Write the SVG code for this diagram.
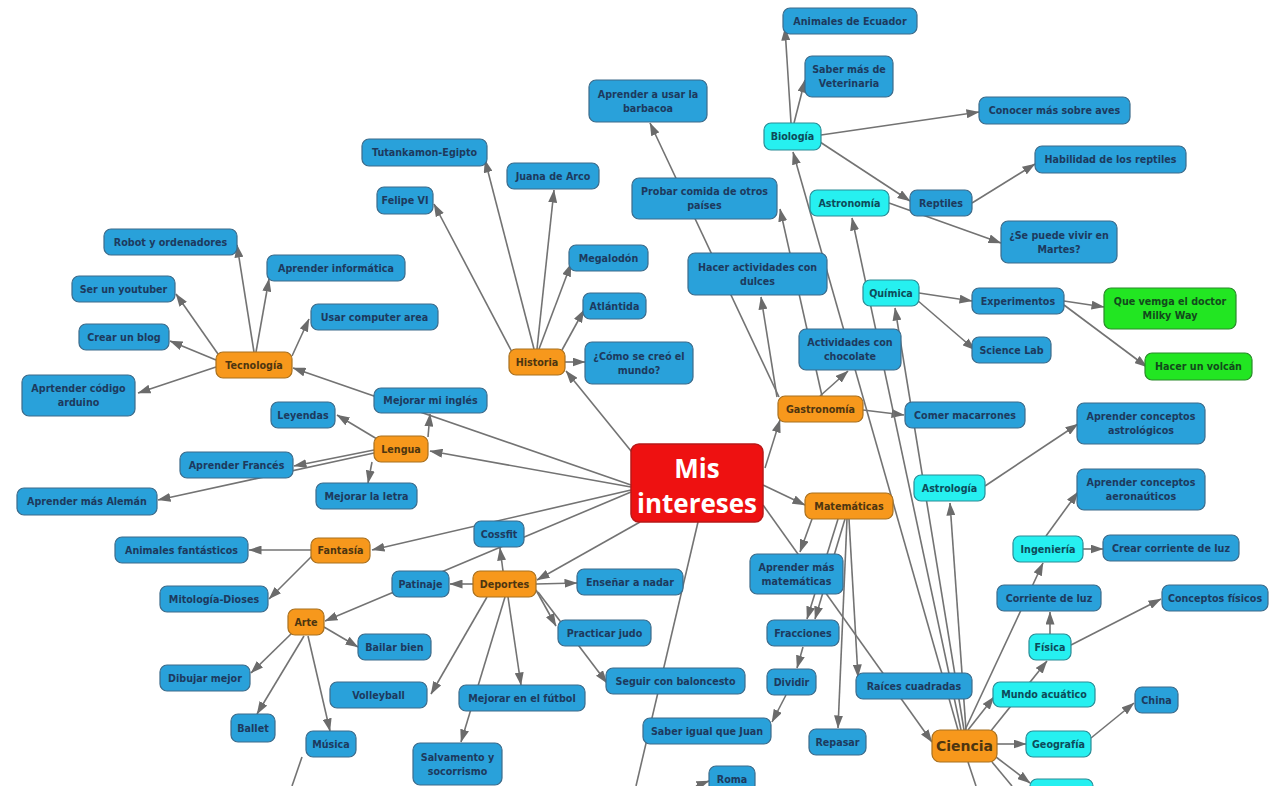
<svg xmlns="http://www.w3.org/2000/svg" width="1269" height="786" viewBox="0 0 1269 786">
<style>
text{font-family:"DejaVu Sans","Open Sans",sans-serif;font-weight:bold;font-size:9.6px;text-anchor:middle}
.b rect{fill:#29a1da;stroke:#3d6b8a;stroke-width:1.2}
.b text{fill:#1d3a5e}
.o rect{fill:#f7981c;stroke:#a8701f;stroke-width:1.2}
.o text{fill:#4d3510}
.c rect{fill:#26f0f0;stroke:#2a8c96;stroke-width:1.2}
.c text{fill:#0d4b5a}
.g rect{fill:#22e622;stroke:#2a8a2a;stroke-width:1.2}
.g text{fill:#124a1c}
.r rect{fill:#ee1111;stroke:#b81818;stroke-width:1.5}
.r text{fill:#ffffff;font-family:"Open Sans","Noto Sans",sans-serif;font-size:26px}
#edges line{stroke:#737373;stroke-width:1.6}
#edges line.a{marker-end:url(#arr)}
</style>
<defs>
<marker id="arr" viewBox="0 0 13 9" refX="12.5" refY="4.5" markerWidth="13" markerHeight="9" markerUnits="userSpaceOnUse" orient="auto">
<path d="M0,0 L13,4.5 L0,9 z" fill="#6b6b6b"/>
</marker>
</defs>
<rect width="1269" height="786" fill="#ffffff"/>
<g id="edges">
<line class="a" x1="640" y1="462" x2="566" y2="371"/>
<line class="a" x1="631" y1="485" x2="293" y2="368"/>
<line class="a" x1="631" y1="487" x2="430" y2="451"/>
<line class="a" x1="631" y1="490" x2="372" y2="550"/>
<line class="a" x1="631" y1="492" x2="325" y2="621"/>
<line class="a" x1="640" y1="522" x2="537" y2="580"/>
<line class="a" x1="765" y1="468" x2="780" y2="420"/>
<line class="a" x1="763" y1="485" x2="805" y2="505"/>
<line class="a" x1="763" y1="505" x2="932" y2="742"/>
<line x1="698" y1="522" x2="636" y2="786"/>
<line class="a" x1="254" y1="352" x2="237" y2="245"/>
<line class="a" x1="256" y1="352" x2="269" y2="279"/>
<line class="a" x1="218" y1="354" x2="176" y2="294"/>
<line class="a" x1="216" y1="360" x2="170" y2="341"/>
<line class="a" x1="216" y1="367" x2="138" y2="393"/>
<line class="a" x1="292" y1="356" x2="309" y2="319"/>
<line class="a" x1="534" y1="349" x2="485" y2="160"/>
<line class="a" x1="537" y1="349" x2="554" y2="190"/>
<line class="a" x1="512" y1="352" x2="434" y2="204"/>
<line class="a" x1="539" y1="349" x2="571" y2="264"/>
<line class="a" x1="562" y1="350" x2="584" y2="310"/>
<line class="a" x1="565" y1="362" x2="585" y2="362"/>
<line class="a" x1="377" y1="439" x2="337" y2="415"/>
<line class="a" x1="428" y1="437" x2="430" y2="414"/>
<line class="a" x1="374" y1="450" x2="294" y2="466"/>
<line class="a" x1="374" y1="453" x2="158" y2="500"/>
<line class="a" x1="372" y1="462" x2="368" y2="483"/>
<line class="a" x1="311" y1="550" x2="249" y2="550"/>
<line class="a" x1="312" y1="556" x2="269" y2="599"/>
<line class="a" x1="324" y1="627" x2="358" y2="647"/>
<line class="a" x1="292" y1="633" x2="251" y2="673"/>
<line class="a" x1="304" y1="636" x2="257" y2="714"/>
<line class="a" x1="308" y1="636" x2="330" y2="731"/>
<line x1="302" y1="757" x2="292" y2="786"/>
<line class="a" x1="503" y1="571" x2="500" y2="548"/>
<line class="a" x1="473" y1="584" x2="450" y2="584"/>
<line class="a" x1="536" y1="584" x2="577" y2="583"/>
<line class="a" x1="536" y1="590" x2="556" y2="626"/>
<line class="a" x1="538" y1="592" x2="607" y2="683"/>
<line class="a" x1="487" y1="597" x2="431" y2="694"/>
<line class="a" x1="508" y1="597" x2="521" y2="685"/>
<line class="a" x1="505" y1="597" x2="461" y2="742"/>
<line class="a" x1="777" y1="397" x2="761" y2="297"/>
<line class="a" x1="779" y1="397" x2="650" y2="123"/>
<line class="a" x1="822" y1="396" x2="780" y2="209"/>
<line class="a" x1="820" y1="396" x2="848" y2="371"/>
<line class="a" x1="863" y1="410" x2="904" y2="415"/>
<line class="a" x1="812" y1="519" x2="800" y2="552"/>
<line class="a" x1="838" y1="519" x2="807" y2="619"/>
<line class="a" x1="845" y1="519" x2="815" y2="619"/>
<line class="a" x1="803" y1="647" x2="797" y2="668"/>
<line class="a" x1="786" y1="695" x2="772" y2="722"/>
<line class="a" x1="849" y1="519" x2="858" y2="677"/>
<line class="a" x1="847" y1="519" x2="838" y2="728"/>
<line class="a" x1="958" y1="730" x2="793" y2="152"/>
<line class="a" x1="961" y1="730" x2="852" y2="218"/>
<line class="a" x1="964" y1="730" x2="895" y2="308"/>
<line class="a" x1="966" y1="730" x2="950" y2="503"/>
<line class="a" x1="968" y1="730" x2="994" y2="697"/>
<line class="a" x1="965" y1="730" x2="1043" y2="563"/>
<line class="a" x1="990" y1="732" x2="1047" y2="661"/>
<line class="a" x1="997" y1="744" x2="1026" y2="744"/>
<line class="a" x1="996" y1="757" x2="1030" y2="783"/>
<line x1="968" y1="762" x2="976" y2="786"/>
<line x1="992" y1="762" x2="1012" y2="786"/>
<line class="a" x1="1050" y1="634" x2="1050" y2="612"/>
<line class="a" x1="1071" y1="645" x2="1161" y2="599"/>
<line class="a" x1="1046" y1="536" x2="1078" y2="492"/>
<line class="a" x1="1083" y1="549" x2="1103" y2="549"/>
<line class="a" x1="1091" y1="738" x2="1134" y2="703"/>
<line class="a" x1="985" y1="486" x2="1078" y2="424"/>
<line class="a" x1="919" y1="293" x2="972" y2="301"/>
<line class="a" x1="917" y1="300" x2="975" y2="350"/>
<line class="a" x1="1064" y1="301" x2="1104" y2="307"/>
<line class="a" x1="1064" y1="305" x2="1147" y2="367"/>
<line class="a" x1="791" y1="123" x2="785" y2="28"/>
<line class="a" x1="794" y1="123" x2="805" y2="80"/>
<line class="a" x1="821" y1="135" x2="979" y2="112"/>
<line class="a" x1="820" y1="142" x2="910" y2="201"/>
<line class="a" x1="972" y1="203" x2="1035" y2="164"/>
<line class="a" x1="889" y1="203" x2="1001" y2="243"/>
<line class="a" x1="696" y1="786" x2="709" y2="781"/>
</g>
<g id="n-center" class="r"><rect x="631" y="444" width="132" height="78" rx="8"/><text x="697" y="478">Mis</text><text x="697" y="513">intereses</text></g>
<g id="n-tecnologia" class="o"><rect x="216" y="352" width="76" height="26" rx="7"/><text x="254" y="368.5">Tecnología</text></g>
<g id="n-lengua" class="o"><rect x="374" y="436" width="54" height="26" rx="7"/><text x="401" y="452.5">Lengua</text></g>
<g id="n-fantasia" class="o"><rect x="311" y="538" width="59" height="25" rx="7"/><text x="340.5" y="554">Fantasía</text></g>
<g id="n-arte" class="o"><rect x="288" y="609" width="36" height="26" rx="7"/><text x="306" y="625.5">Arte</text></g>
<g id="n-historia" class="o"><rect x="509" y="349" width="56" height="26" rx="7"/><text x="537" y="365.5">Historia</text></g>
<g id="n-deportes" class="o"><rect x="473" y="571" width="63" height="26" rx="7"/><text x="504.5" y="587.5">Deportes</text></g>
<g id="n-gastronomia" class="o"><rect x="778" y="396" width="85" height="26" rx="7"/><text x="820.5" y="412.5">Gastronomía</text></g>
<g id="n-matematicas" class="o"><rect x="805" y="493" width="88" height="26" rx="7"/><text x="849" y="509.5">Matemáticas</text></g>
<g id="n-ciencia" class="o"><rect x="932" y="730" width="65" height="32" rx="8"/><text x="964.5" y="751" style="font-size:14px">Ciencia</text></g>
<g id="n-biologia" class="c"><rect x="764" y="123" width="57" height="27" rx="7"/><text x="792.5" y="140">Biología</text></g>
<g id="n-astronomia" class="c"><rect x="810" y="190" width="79" height="26" rx="7"/><text x="849.5" y="206.5">Astronomía</text></g>
<g id="n-quimica" class="c"><rect x="863" y="280" width="56" height="26" rx="7"/><text x="891" y="296.5">Química</text></g>
<g id="n-astrologia" class="c"><rect x="914" y="475" width="71" height="26" rx="7"/><text x="949.5" y="491.5">Astrología</text></g>
<g id="n-ingenieria" class="c"><rect x="1013" y="536" width="70" height="26" rx="7"/><text x="1048" y="552.5">Ingeniería</text></g>
<g id="n-fisica" class="c"><rect x="1029" y="634" width="42" height="26" rx="7"/><text x="1050" y="650.5">Física</text></g>
<g id="n-mundo" class="c"><rect x="993" y="682" width="102" height="25" rx="7"/><text x="1044" y="698">Mundo acuático</text></g>
<g id="n-geografia" class="c"><rect x="1026" y="731" width="65" height="26" rx="7"/><text x="1058.5" y="747.5">Geografía</text></g>
<g id="n-cyanbottom" class="c"><rect x="1030" y="779" width="63" height="26" rx="7"/></g>
<g id="n-milky" class="g"><rect x="1104" y="288" width="132" height="41" rx="7"/><text x="1170" y="305">Que vemga el doctor</text><text x="1170" y="319">Milky Way</text></g>
<g id="n-volcan" class="g"><rect x="1145" y="353" width="107" height="27" rx="7"/><text x="1198.5" y="370">Hacer un volcán</text></g>
<g id="n-robot" class="b"><rect x="104" y="229" width="133" height="26" rx="7"/><text x="170.5" y="245.5">Robot y ordenadores</text></g>
<g id="n-youtuber" class="b"><rect x="72" y="276" width="103" height="26" rx="7"/><text x="123.5" y="292.5">Ser un youtuber</text></g>
<g id="n-informatica" class="b"><rect x="267" y="255" width="138" height="26" rx="7"/><text x="336" y="271.5">Aprender informática</text></g>
<g id="n-blog" class="b"><rect x="79" y="324" width="90" height="26" rx="7"/><text x="124" y="340.5">Crear un blog</text></g>
<g id="n-computer" class="b"><rect x="311" y="304" width="127" height="26" rx="7"/><text x="374.5" y="320.5">Usar computer area</text></g>
<g id="n-arduino" class="b"><rect x="22" y="375" width="113" height="41" rx="7"/><text x="78.5" y="392">Aprtender código</text><text x="78.5" y="406">arduino</text></g>
<g id="n-ingles" class="b"><rect x="374" y="388" width="113" height="25" rx="7"/><text x="430.5" y="404">Mejorar mi inglés</text></g>
<g id="n-leyendas" class="b"><rect x="271" y="402" width="64" height="26" rx="7"/><text x="303" y="418.5">Leyendas</text></g>
<g id="n-frances" class="b"><rect x="180" y="452" width="113" height="26" rx="7"/><text x="236.5" y="468.5">Aprender Francés</text></g>
<g id="n-aleman" class="b"><rect x="17" y="488" width="140" height="27" rx="7"/><text x="87" y="505">Aprender más Alemán</text></g>
<g id="n-letra" class="b"><rect x="316" y="483" width="101" height="26" rx="7"/><text x="366.5" y="499.5">Mejorar la letra</text></g>
<g id="n-animfant" class="b"><rect x="115" y="537" width="133" height="26" rx="7"/><text x="181.5" y="553.5">Animales fantásticos</text></g>
<g id="n-mitologia" class="b"><rect x="160" y="586" width="108" height="26" rx="7"/><text x="214" y="602.5">Mitología-Dioses</text></g>
<g id="n-patinaje" class="b"><rect x="392" y="571" width="57" height="26" rx="7"/><text x="420.5" y="587.5">Patinaje</text></g>
<g id="n-cossfit" class="b"><rect x="474" y="521" width="50" height="26" rx="7"/><text x="499" y="537.5">Cossfit</text></g>
<g id="n-ensenar" class="b"><rect x="577" y="569" width="106" height="26" rx="7"/><text x="630" y="585.5">Enseñar a nadar</text></g>
<g id="n-bailar" class="b"><rect x="358" y="634" width="73" height="26" rx="7"/><text x="394.5" y="650.5">Bailar bien</text></g>
<g id="n-judo" class="b"><rect x="558" y="620" width="93" height="26" rx="7"/><text x="604.5" y="636.5">Practicar judo</text></g>
<g id="n-dibujar" class="b"><rect x="160" y="665" width="90" height="26" rx="7"/><text x="205" y="681.5">Dibujar mejor</text></g>
<g id="n-volleyball" class="b"><rect x="330" y="682" width="97" height="26" rx="7"/><text x="378.5" y="698.5">Volleyball</text></g>
<g id="n-futbol" class="b"><rect x="459" y="685" width="126" height="26" rx="7"/><text x="522" y="701.5">Mejorar en el fútbol</text></g>
<g id="n-seguir" class="b"><rect x="606" y="668" width="139" height="26" rx="7"/><text x="675.5" y="684.5">Seguir con baloncesto</text></g>
<g id="n-ballet" class="b"><rect x="231" y="714" width="44" height="28" rx="7"/><text x="253" y="731.5">Ballet</text></g>
<g id="n-musica" class="b"><rect x="306" y="731" width="50" height="26" rx="7"/><text x="331" y="747.5">Música</text></g>
<g id="n-salvamento" class="b"><rect x="413" y="743" width="89" height="42" rx="7"/><text x="457.5" y="760.5">Salvamento y</text><text x="457.5" y="774.5">socorrismo</text></g>
<g id="n-roma" class="b"><rect x="709" y="766" width="46" height="26" rx="7"/><text x="732" y="782.5">Roma</text></g>
<g id="n-tutankamon" class="b"><rect x="362" y="139" width="125" height="27" rx="7"/><text x="424.5" y="156">Tutankamon-Egipto</text></g>
<g id="n-juana" class="b"><rect x="507" y="163" width="92" height="26" rx="7"/><text x="553" y="179.5">Juana de Arco</text></g>
<g id="n-felipe" class="b"><rect x="377" y="187" width="56" height="27" rx="7"/><text x="405" y="204">Felipe VI</text></g>
<g id="n-megalodon" class="b"><rect x="569" y="245" width="79" height="26" rx="7"/><text x="608.5" y="261.5">Megalodón</text></g>
<g id="n-atlantida" class="b"><rect x="583" y="293" width="63" height="26" rx="7"/><text x="614.5" y="309.5">Atlántida</text></g>
<g id="n-como" class="b"><rect x="585" y="342" width="108" height="42" rx="7"/><text x="639" y="359.5">¿Cómo se creó el</text><text x="639" y="373.5">mundo?</text></g>
<g id="n-barbacoa" class="b"><rect x="589" y="80" width="118" height="42" rx="7"/><text x="648" y="97.5">Aprender a usar la</text><text x="648" y="111.5">barbacoa</text></g>
<g id="n-probar" class="b"><rect x="632" y="178" width="145" height="41" rx="7"/><text x="704.5" y="195">Probar comida de otros</text><text x="704.5" y="209">países</text></g>
<g id="n-dulces" class="b"><rect x="688" y="253" width="139" height="42" rx="7"/><text x="757.5" y="270.5">Hacer actividades con</text><text x="757.5" y="284.5">dulces</text></g>
<g id="n-chocolate" class="b"><rect x="799" y="329" width="102" height="41" rx="7"/><text x="850" y="346">Actividades con</text><text x="850" y="360">chocolate</text></g>
<g id="n-macarrones" class="b"><rect x="905" y="402" width="120" height="26" rx="7"/><text x="965" y="418.5">Comer macarrones</text></g>
<g id="n-amm" class="b"><rect x="750" y="554" width="93" height="40" rx="7"/><text x="796.5" y="570.5">Aprender más</text><text x="796.5" y="584.5">matemáticas</text></g>
<g id="n-fracciones" class="b"><rect x="767" y="620" width="72" height="26" rx="7"/><text x="803" y="636.5">Fracciones</text></g>
<g id="n-dividir" class="b"><rect x="767" y="669" width="49" height="26" rx="7"/><text x="791.5" y="685.5">Dividir</text></g>
<g id="n-saberjuan" class="b"><rect x="643" y="718" width="128" height="26" rx="7"/><text x="707" y="734.5">Saber igual que Juan</text></g>
<g id="n-raices" class="b"><rect x="856" y="673" width="116" height="26" rx="7"/><text x="914" y="689.5">Raíces cuadradas</text></g>
<g id="n-repasar" class="b"><rect x="809" y="729" width="57" height="26" rx="7"/><text x="837.5" y="745.5">Repasar</text></g>
<g id="n-china" class="b"><rect x="1135" y="687" width="43" height="26" rx="7"/><text x="1156.5" y="703.5">China</text></g>
<g id="n-conceptosfis" class="b"><rect x="1162" y="585" width="106" height="26" rx="7"/><text x="1215" y="601.5">Conceptos físicos</text></g>
<g id="n-corriente" class="b"><rect x="997" y="585" width="104" height="26" rx="7"/><text x="1049" y="601.5">Corriente de luz</text></g>
<g id="n-crearcorr" class="b"><rect x="1103" y="535" width="136" height="26" rx="7"/><text x="1171" y="551.5">Crear corriente de luz</text></g>
<g id="n-aeronauticos" class="b"><rect x="1077" y="469" width="128" height="41" rx="7"/><text x="1141" y="486">Aprender conceptos</text><text x="1141" y="500">aeronaúticos</text></g>
<g id="n-astrologicos" class="b"><rect x="1077" y="403" width="128" height="41" rx="7"/><text x="1141" y="420">Aprender conceptos</text><text x="1141" y="434">astrológicos</text></g>
<g id="n-experimentos" class="b"><rect x="972" y="288" width="92" height="26" rx="7"/><text x="1018" y="304.5">Experimentos</text></g>
<g id="n-sciencelab" class="b"><rect x="972" y="337" width="79" height="26" rx="7"/><text x="1011.5" y="353.5">Science Lab</text></g>
<g id="n-ecuador" class="b"><rect x="783" y="8" width="134" height="26" rx="7"/><text x="850" y="24.5">Animales de Ecuador</text></g>
<g id="n-veterinaria" class="b"><rect x="805" y="56" width="88" height="41" rx="7"/><text x="849" y="73">Saber más de</text><text x="849" y="87">Veterinaria</text></g>
<g id="n-aves" class="b"><rect x="979" y="97" width="151" height="27" rx="7"/><text x="1054.5" y="114">Conocer más sobre aves</text></g>
<g id="n-reptiles" class="b"><rect x="910" y="190" width="62" height="26" rx="7"/><text x="941" y="206.5">Reptiles</text></g>
<g id="n-habilidad" class="b"><rect x="1035" y="146" width="151" height="27" rx="7"/><text x="1110.5" y="163">Habilidad de los reptiles</text></g>
<g id="n-martes" class="b"><rect x="1001" y="221" width="116" height="42" rx="7"/><text x="1059" y="238.5">¿Se puede vivir en</text><text x="1059" y="252.5">Martes?</text></g>
</svg>
